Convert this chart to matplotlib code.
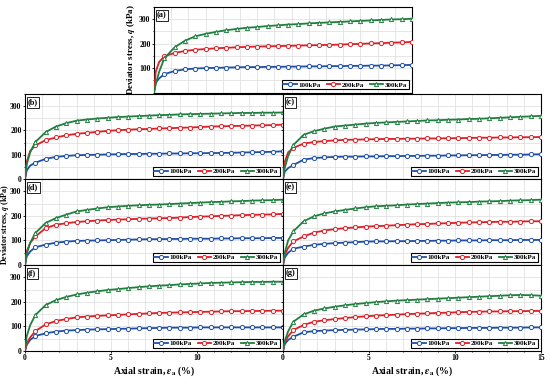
import numpy as np
import matplotlib
matplotlib.use('Agg')
import matplotlib.pyplot as plt
from matplotlib.ticker import MultipleLocator

plt.rcParams['font.family'] = ['Liberation Serif', 'DejaVu Serif']
plt.rcParams['font.weight'] = 'bold'
plt.rcParams['mathtext.fontset'] = 'stix'

# ── data: axial strain (%) and deviator stress q (kPa) ──
strain = [0, 0.1, 0.3, 0.6, 1.2, 1.8, 2.4, 3.0, 3.6, 4.2, 4.8, 5.4, 6.0, 6.6,
          7.2, 7.8, 8.4, 9.0, 9.6, 10.2, 10.8, 11.4, 12.0, 12.6, 13.2, 13.8, 14.4, 15.0]
series_labels = ['100kPa', '200kPa', '300kPa']
panel_labels = ['(a)', '(b)', '(c)', '(d)', '(e)', '(f)', '(g)']

q_100 = {
    'a': [0, 40, 58, 75, 88, 95, 98, 100, 101, 102, 103, 104, 104, 105, 105, 106, 106, 107, 107, 108, 108, 109, 109, 110, 110, 111, 112, 113],
    'b': [0, 35, 55, 67, 83, 91, 95, 98, 99, 100, 101, 102, 103, 103, 104, 104, 105, 105, 106, 106, 107, 107, 108, 109, 110, 111, 112, 114],
    'c': [0, 30, 45, 57, 80, 86, 89, 91, 92, 92, 93, 93, 94, 94, 95, 95, 96, 96, 97, 97, 98, 98, 99, 99, 100, 100, 101, 102],
    'd': [0, 35, 55, 72, 83, 91, 95, 98, 99, 100, 101, 102, 103, 104, 105, 105, 106, 106, 107, 107, 107, 108, 108, 109, 109, 109, 110, 110],
    'e': [0, 30, 50, 66, 75, 82, 86, 89, 91, 93, 95, 96, 96, 97, 97, 98, 98, 99, 99, 100, 100, 100, 101, 101, 101, 102, 102, 102],
    'f': [0, 25, 45, 61, 72, 79, 83, 85, 87, 88, 89, 90, 91, 92, 93, 94, 95, 95, 95, 96, 96, 96, 96, 96, 96, 96, 96, 96],
    'g': [0, 28, 45, 58, 76, 81, 83, 85, 86, 87, 88, 89, 90, 90, 91, 91, 92, 92, 93, 93, 94, 94, 94, 95, 95, 95, 96, 96],
}
q_200 = {
    'a': [0, 85, 125, 148, 162, 170, 175, 178, 181, 183, 185, 187, 188, 189, 190, 191, 192, 193, 194, 195, 196, 198, 199, 201, 202, 204, 205, 207],
    'b': [0, 70, 115, 138, 160, 171, 180, 186, 190, 194, 198, 201, 203, 205, 206, 208, 209, 211, 212, 214, 216, 217, 218, 219, 220, 221, 222, 224],
    'c': [0, 70, 110, 128, 146, 152, 156, 159, 161, 162, 163, 164, 165, 165, 166, 166, 167, 167, 168, 168, 169, 170, 170, 171, 171, 172, 172, 173],
    'd': [0, 55, 90, 116, 150, 164, 170, 175, 178, 181, 183, 185, 186, 188, 189, 190, 191, 193, 195, 197, 198, 200, 201, 203, 204, 205, 206, 208],
    'e': [0, 40, 70, 96, 116, 132, 140, 146, 150, 153, 156, 158, 160, 162, 164, 166, 167, 169, 170, 172, 173, 174, 175, 176, 176, 177, 178, 178],
    'f': [0, 30, 55, 81, 108, 122, 130, 137, 140, 143, 145, 147, 149, 151, 153, 155, 156, 157, 158, 159, 160, 161, 162, 162, 163, 163, 164, 164],
    'g': [0, 35, 60, 85, 106, 119, 125, 130, 134, 138, 141, 144, 146, 148, 150, 152, 153, 155, 156, 158, 159, 160, 161, 161, 162, 162, 163, 163],
}
q_300 = {
    'a': [0, 35, 85, 140, 185, 212, 230, 240, 248, 255, 260, 265, 268, 272, 275, 278, 280, 283, 285, 287, 289, 291, 293, 295, 297, 299, 300, 302],
    'b': [0, 60, 110, 152, 193, 216, 230, 240, 245, 249, 252, 255, 257, 259, 261, 263, 264, 266, 267, 268, 269, 270, 271, 272, 272, 273, 273, 274],
    'c': [0, 45, 95, 140, 182, 197, 207, 216, 220, 224, 228, 231, 233, 235, 237, 239, 241, 242, 244, 245, 247, 248, 250, 252, 254, 256, 258, 260],
    'd': [0, 45, 90, 130, 171, 191, 205, 218, 224, 230, 235, 238, 241, 243, 245, 246, 248, 250, 252, 254, 256, 257, 259, 260, 262, 263, 264, 266],
    'e': [0, 50, 100, 137, 178, 198, 210, 218, 224, 230, 235, 239, 241, 243, 246, 248, 250, 252, 254, 255, 256, 258, 259, 260, 262, 263, 264, 266],
    'f': [0, 60, 105, 146, 187, 207, 220, 230, 237, 243, 248, 252, 256, 260, 263, 266, 268, 271, 273, 275, 277, 278, 279, 280, 281, 281, 282, 282],
    'g': [0, 40, 80, 119, 149, 164, 173, 180, 186, 191, 195, 199, 202, 205, 207, 209, 211, 213, 215, 217, 219, 221, 223, 225, 227, 228, 227, 225],
}

colors  = ['#1f4fa8', '#dd1f26', '#1f7f3f']
markers = ['o', 'o', '^']

W, H = 550, 378
fig = plt.figure(figsize=(W / 100, H / 100), dpi=100)

def px_axes(x0, y0, x1, y1):
    return fig.add_axes([x0 / W, 1 - y1 / H, (x1 - x0) / W, (y1 - y0) / H])

# ── axes positions in pixels (left, top, right, bottom) ──
boxes = {
    'a': (154, 7, 412, 92.5),
    'b': (25, 94, 283, 179), 'c': (283, 94, 541, 179),
    'd': (25, 179, 283, 265), 'e': (283, 179, 541, 265),
    'f': (25, 265, 283, 351), 'g': (283, 265, 541, 351),
}

for key, lab in zip('abcdefg', panel_labels):
    ax = px_axes(*boxes[key])
    for q, c, m, sl in zip([q_100, q_200, q_300], colors, markers, series_labels):
        ax.plot(strain, q[key], color=c, lw=1.3, marker=m, ms=3.0,
                mfc='white', mec=c, mew=0.7, markevery=range(3, len(strain)),
                label=sl, zorder=3)
    ax.set_xlim(0, 15)
    ax.set_ylim(0, 350)
    ax.xaxis.set_major_locator(MultipleLocator(5))
    ax.xaxis.set_minor_locator(MultipleLocator(1))
    ax.yaxis.set_major_locator(MultipleLocator(100))
    ax.yaxis.set_minor_locator(MultipleLocator(50))
    ax.grid(which='both', color='#dcdcdc', lw=0.5, zorder=0)
    ax.tick_params(which='both', direction='out', labelsize=5.5, pad=1.0,
                   length=1.5, width=0.6)
    ax.tick_params(which='minor', length=0.8)
    for s in ax.spines.values():
        s.set_linewidth(0.8)

    if key in 'ceg':
        ax.tick_params(labelleft=False)
    if key not in 'fg':
        ax.tick_params(labelbottom=False)
    if key == 'f':
        ax.set_xticks([0, 5, 10])
    if key == 'a':
        ax.set_yticks([100, 200, 300])
        ax.set_ylabel('Deviator stress, $q$ (kPa)', fontsize=6.5, fontweight='bold',
                      labelpad=1.5)
    if key in 'fg':
        ax.set_xlabel(r'Axial strain, $\varepsilon_\mathbf{a}$ (%)', fontsize=7,
                      fontweight='bold', labelpad=1.5)

    ax.text(0.012, 0.95, lab, transform=ax.transAxes, fontsize=6,
            fontweight='bold', va='top', ha='left',
            bbox=dict(boxstyle='square,pad=0.15', fc='white', ec='k', lw=0.6))

    leg = ax.legend(loc='lower right', ncol=3, fontsize=5, frameon=True,
                    fancybox=False, edgecolor='k', framealpha=1,
                    handlelength=1.9, handletextpad=0.3, columnspacing=0.8,
                    borderpad=0.2, borderaxespad=0.5)
    leg.get_frame().set_linewidth(0.8)

fig.text(4.8 / W, 1 - 224 / H, 'Deviator stress, $q$ (kPa)', rotation=90,
         fontsize=5.8, fontweight='bold', ha='center', va='center')

fig.savefig('out.png', dpi=100, facecolor='white')
